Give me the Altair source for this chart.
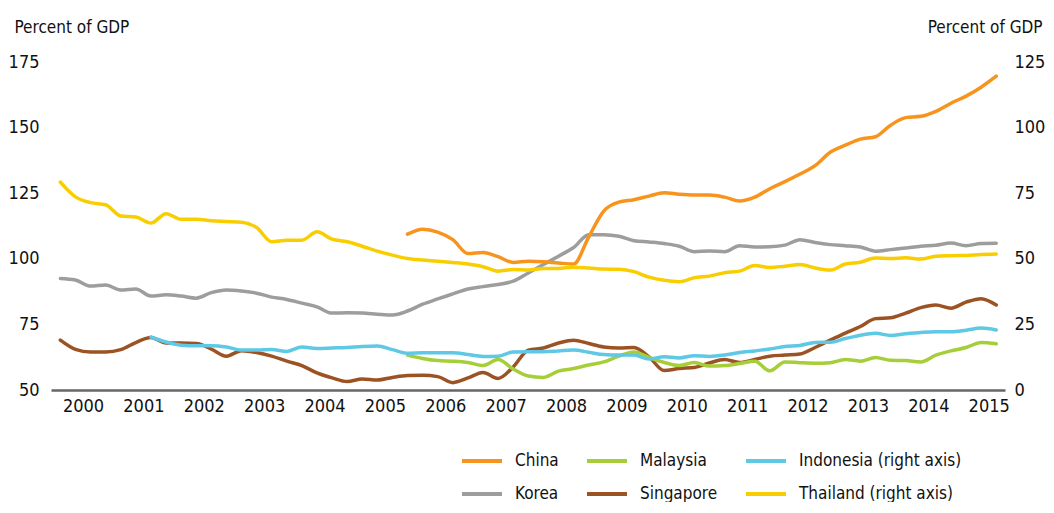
import altair as alt
import pandas as pd

# Quarterly observations, 2000Q1 .. 2015Q3 (63 quarters)
quarter_start = 2000.125
n_quarters = 63

# legend fills column by column: (China, Korea) (Malaysia, Singapore) (Indonesia, Thailand)
series_order = ["China", "Korea", "Malaysia", "Singapore", "Indonesia (right axis)", "Thailand (right axis)"]
series_colors = ["#F7941D", "#9D9D9C", "#A6CE39", "#9C5324", "#5EC8E5", "#F8CE00"]

# Left axis series (percent of GDP), None = no data
china = [None] * 23 + [
    109.4, 111.3, 110.2, 107.3, 102.0, 102.4, 100.8, 98.6, 99.1,
    98.9, 98.4, 98.0, 108.3, 118.2, 121.6, 122.5, 123.9, 125.2, 124.6,
    124.3, 124.3, 123.5, 122.0, 123.5, 126.7, 129.4, 132.3, 135.5, 140.6,
    143.3, 145.6, 146.5, 150.9, 153.8, 154.3, 156.2, 159.3, 162.0, 165.4, 169.6]

korea = [
    92.5, 91.9, 89.6, 90.0, 88.1, 88.5, 85.8, 86.3, 85.8, 85.0,
    87.1, 88.1, 87.7, 86.9, 85.4, 84.5, 83.1, 81.7, 79.3, 79.4,
    79.3, 78.9, 78.6, 80.1, 82.7, 84.7, 86.6, 88.5, 89.4, 90.2,
    91.5, 94.6, 97.8, 101.0, 104.3, 109.2, 109.2, 108.6, 106.9, 106.4,
    105.8, 104.8, 102.7, 103.0, 102.7, 105.0, 104.5, 104.6, 105.2, 107.3,
    106.2, 105.4, 105.0, 104.5, 102.9, 103.5, 104.1, 104.8, 105.2, 106.0,
    105.0, 105.8, 105.9]

malaysia = [None] * 23 + [
    63.3, 62.0, 61.2, 61.0, 60.5, 59.3, 61.6, 58.0, 55.3,
    54.8, 57.2, 58.2, 59.5, 60.7, 62.9, 64.5, 62.4, 60.5, 59.3,
    60.5, 59.1, 59.3, 60.1, 61.0, 57.3, 60.7, 60.4, 60.2, 60.4,
    61.6, 61.0, 62.4, 61.3, 61.2, 60.7, 63.3, 64.9, 66.2, 68.1, 67.6]

singapore = [
    69.0, 65.5, 64.5, 64.5, 65.4, 68.1, 70.0, 67.9, 67.9, 67.7,
    65.6, 62.9, 65.0, 64.3, 62.9, 61.0, 59.3, 56.5, 54.6, 53.2,
    54.2, 53.8, 54.8, 55.5, 55.6, 55.1, 52.8, 54.6, 56.7, 54.4,
    58.8, 65.2, 66.0, 67.9, 69.0, 67.7, 66.4, 66.0, 66.2, 62.6,
    57.4, 58.2, 58.6, 60.3, 61.6, 60.5, 61.6, 62.9, 63.3, 63.7,
    66.2, 69.0, 71.7, 74.2, 77.2, 77.5, 79.3, 81.4, 82.4, 81.2,
    83.5, 84.8, 82.4]

# Right axis series
indonesia = [None] * 6 + [
    20.2, 18.3, 17.1, 16.9, 16.9, 16.4, 15.2, 15.2, 15.4, 14.7,
    16.4, 15.8, 16.0, 16.2, 16.6, 16.8, 15.4, 14.0, 14.2, 14.2,
    14.2, 13.5, 12.8, 12.9, 14.5, 14.6, 14.6, 14.9, 15.2, 14.4,
    13.5, 13.3, 13.3, 11.8, 12.7, 12.2, 13.1, 12.8, 13.3, 14.3,
    14.9, 15.6, 16.6, 17.0, 18.1, 18.2, 19.6, 20.9, 21.6, 20.8,
    21.4, 21.9, 22.2, 22.2, 22.8, 23.6, 22.9]

thailand = [
    79.2, 73.6, 71.4, 70.6, 66.3, 65.9, 63.6, 67.2, 65.1, 65.1,
    64.5, 64.2, 63.9, 61.9, 56.5, 57.1, 57.1, 60.3, 57.5, 56.5,
    54.8, 52.9, 51.4, 50.1, 49.5, 49.1, 48.6, 48.0, 47.0, 45.3,
    45.9, 45.7, 46.3, 46.3, 46.8, 46.5, 46.1, 46.0, 45.1, 43.0,
    41.8, 41.3, 42.8, 43.4, 44.7, 45.3, 47.4, 46.7, 47.2, 47.8,
    46.5, 45.7, 48.0, 48.7, 50.3, 50.1, 50.4, 49.9, 51.0, 51.2,
    51.3, 51.6, 51.8]

year_labels = list(range(2000, 2016))
left_ticks = [50, 75, 100, 125, 150, 175]
right_ticks = [0, 25, 50, 75, 100, 125]

quarters = [quarter_start + 0.25 * i for i in range(n_quarters)]


def long_frame(named):
    rows = []
    for name, vals in named:
        for t, v in zip(quarters, vals):
            if v is not None:
                rows.append({"t": t, "v": v, "series": name})
    return pd.DataFrame(rows)


df_left = long_frame([("Korea", korea), ("Singapore", singapore), ("Malaysia", malaysia), ("China", china)])
df_right = long_frame([("Indonesia (right axis)", indonesia), ("Thailand (right axis)", thailand)])

FONT = "'Noto Sans Condensed', 'DejaVu Sans Condensed', 'Liberation Sans Narrow', 'Liberation Sans', sans-serif"
TXT = "#111111"
FS = 17

x_enc = alt.X(
    "t:Q",
    scale=alt.Scale(domain=[1999.97, 2015.77], nice=False, zero=False),
    axis=alt.Axis(
        values=[y + 0.5 for y in year_labels],
        labelExpr="floor(datum.value)",
        title=None, ticks=False, grid=False,
        domainColor="#666666", domainWidth=2.5,
        labelPadding=7, labelFontSize=FS + 1, labelColor=TXT,
    ),
)

color_enc = alt.Color(
    "series:N",
    scale=alt.Scale(domain=series_order, range=series_colors),
    legend=alt.Legend(
        title=None, orient="none", legendX=409, legendY=377, columns=3,
        symbolType="stroke", symbolSize=1600, symbolStrokeWidth=4,
        labelFontSize=FS, labelOffset=11, columnPadding=20, rowPadding=3,
        labelColor=TXT, labelFont=FONT, labelLimit=400,
    ),
)

line_props = dict(strokeWidth=3.5, interpolate="monotone", strokeCap="round", strokeJoin="round")

left = alt.Chart(df_left).mark_line(**line_props).encode(
    x=x_enc,
    y=alt.Y(
        "v:Q",
        scale=alt.Scale(domain=[50, 175], nice=False, zero=False),
        axis=alt.Axis(
            orient="left", values=left_ticks, title="Percent of GDP",
            titleAngle=0, titleX=-37, titleY=-35, titleAlign="left", titleBaseline="middle",
            titleFontSize=FS, titleFontWeight="normal", titleColor=TXT,
            domain=False, ticks=False, grid=False, labelPadding=12,
            labelFontSize=FS + 1, labelColor=TXT,
        ),
    ),
    color=color_enc,
)

right = alt.Chart(df_right).mark_line(**line_props).encode(
    x=x_enc,
    y=alt.Y(
        "v:Q",
        scale=alt.Scale(domain=[0, 125], nice=False, zero=False),
        axis=alt.Axis(
            orient="right", values=right_ticks, title="Percent of GDP",
            titleAngle=0, titleX=37, titleY=-35, titleAlign="right", titleBaseline="middle",
            titleFontSize=FS, titleFontWeight="normal", titleColor=TXT,
            domain=False, ticks=False, grid=False, labelPadding=9,
            labelFontSize=FS + 1, labelColor=TXT,
        ),
    ),
    color=color_enc,
)

chart = (
    alt.layer(left, right)
    .resolve_scale(y="independent")
    .properties(
        width=954, height=328,
        autosize=alt.AutoSizeParams(type="none"),
        padding={"left": 43, "top": 54, "right": 41, "bottom": 112},
    )
    .configure(font=FONT)
    .configure_view(stroke=None)
)

chart.save("out.html", embed_options={"renderer": "svg", "actions": False})
